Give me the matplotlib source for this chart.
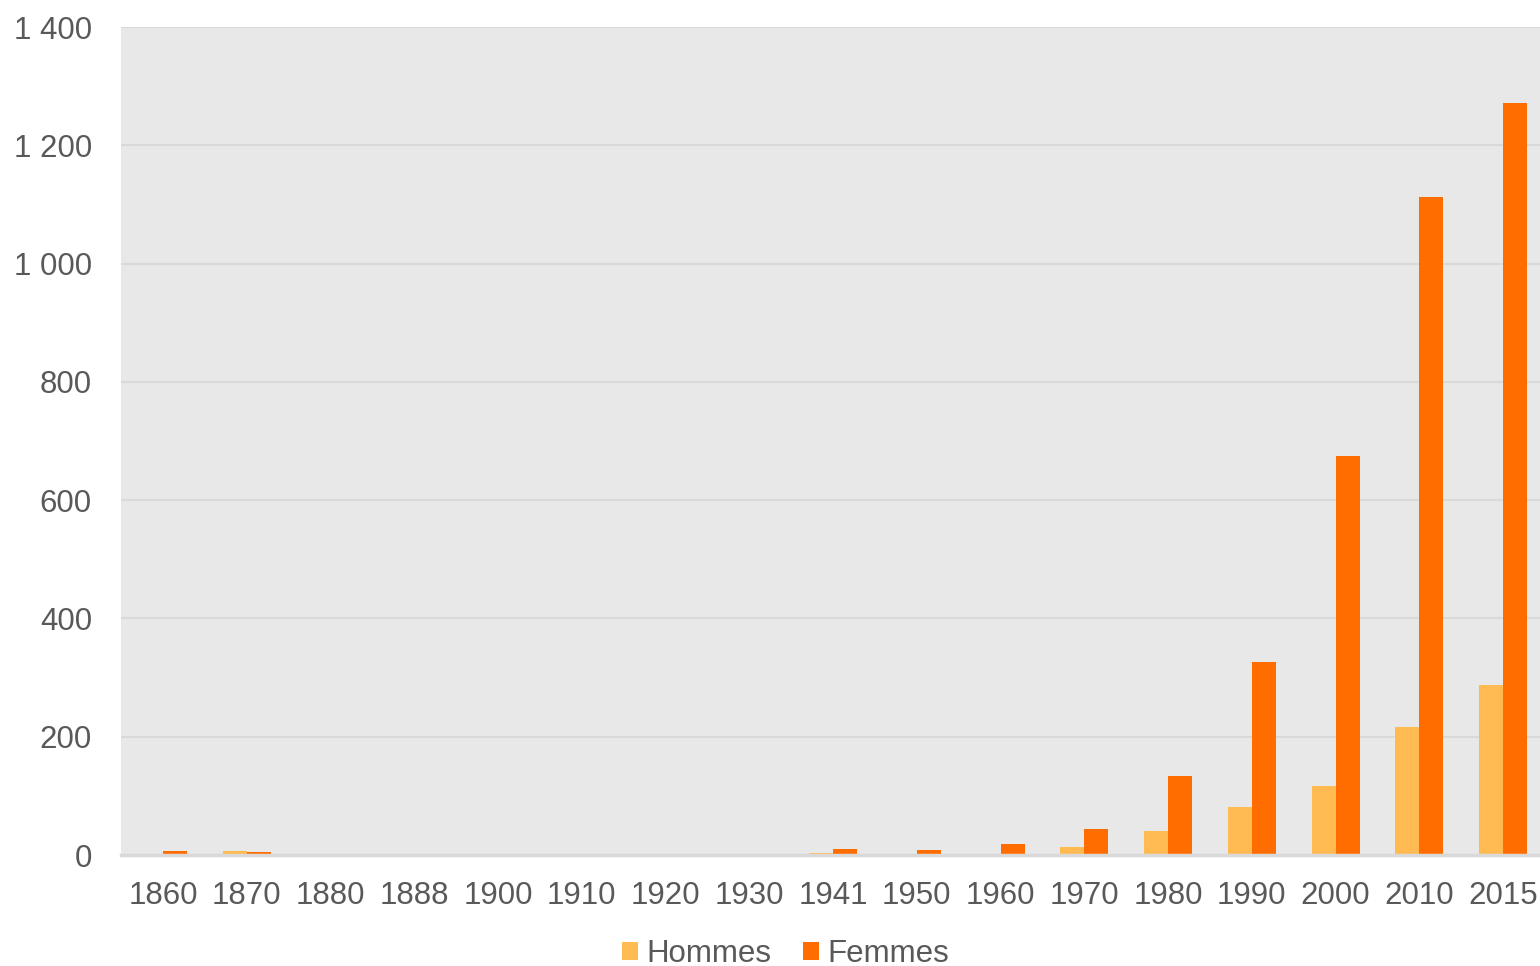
import numpy as np
import matplotlib
matplotlib.use("Agg")
import matplotlib.pyplot as plt
from matplotlib.ticker import FuncFormatter

# data
years = ['1860', '1870', '1880', '1888', '1900', '1910', '1920', '1930', '1941',
         '1950', '1960', '1970', '1980', '1990', '2000', '2010', '2015']
hommes = [1, 6, 0, 0, 0, 0, 0, 0.5, 4, 1, 2, 14, 41, 82, 117, 216, 288]
femmes = [6, 5, 0, 0, 0, 0, 0, 2, 10, 8, 18, 44, 134, 327, 675, 1113, 1272]

c_h = '#FFBA52'
c_f = '#FF6C00'
txt = '#595959'

plt.rcParams['font.family'] = ['Liberation Sans', 'DejaVu Sans']

fig = plt.figure(figsize=(15.4, 9.66), dpi=100)
ax = fig.add_axes([0.0786, 0.1149, 0.9214, 0.8571])
ax.set_facecolor('#E8E8E8')

x = np.arange(len(years))
w = 0.287
ax.bar(x - w/2, hommes, w, color=c_h, label='Hommes', zorder=3)
ax.bar(x + w/2, femmes, w, color=c_f, label='Femmes', zorder=3)

ax.set_xlim(-0.5, 16.44)
ax.set_ylim(0, 1400)
ax.set_yticks(range(0, 1401, 200))
ax.yaxis.set_major_formatter(FuncFormatter(lambda v, p: f'{int(v):,}'.replace(',', ' ')))
ax.set_xticks(x)
ax.set_xticklabels(years)

ax.grid(axis='y', color='#D9D9D9', linewidth=1.5, zorder=0)
for s in ['top', 'right', 'left']:
    ax.spines[s].set_visible(False)
ax.spines['bottom'].set_color('#D9D9D9')
ax.spines['bottom'].set_linewidth(2.5)
ax.spines['bottom'].set_zorder(4)

ax.tick_params(axis='y', length=0, pad=21, labelsize=22.5, labelcolor=txt)
ax.tick_params(axis='x', length=0, pad=19, labelsize=22.5, labelcolor=txt)

leg = fig.legend(loc='lower center', bbox_to_anchor=(0.51, -0.019), ncol=2, frameon=False,
                 fontsize=22.5, handlelength=0.52, handleheight=0.52, handletextpad=0.26,
                 columnspacing=1.0, borderpad=0)
for t in leg.get_texts():
    t.set_color(txt)

fig.savefig('out.png', dpi=100, facecolor='white')
